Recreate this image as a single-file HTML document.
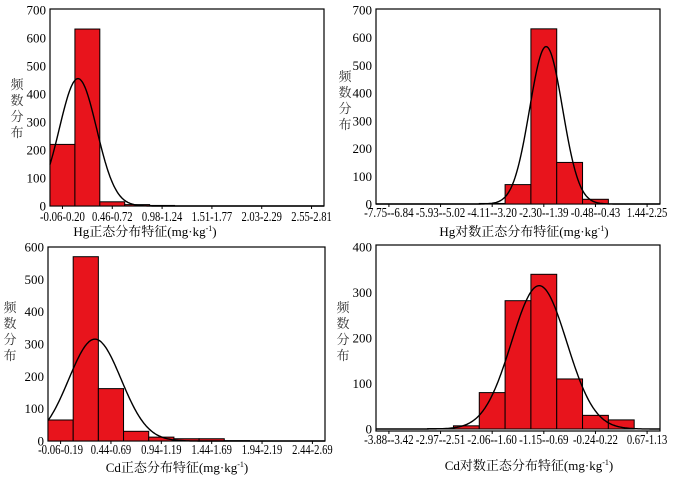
<!DOCTYPE html>
<html><head><meta charset="utf-8"><style>
html,body{margin:0;padding:0;background:#fff;}
svg{display:block;}
svg text{font-family:"Liberation Serif","Noto Serif CJK SC",serif;}
</style></head><body>
<svg id="svg" width="677" height="477" viewBox="0 0 677 477"></svg>
<script>
// Panel data
const hgBins = [220, 632, 15, 5, 2, 0, 0, 0, 0, 0, 0];
const hgLabels = ["-0.06-0.20", "0.46-0.72", "0.98-1.24", "1.51-1.77", "2.03-2.29", "2.55-2.81"];
const hgYTicks = [0, 100, 200, 300, 400, 500, 600, 700];
const hgNormal = [0.232, 0.195, 455];

const hgLogBins = [0, 0, 0, 0, 2, 70, 632, 150, 17, 0, 0];
const hgLogLabels = ["-7.75--6.84", "-5.93--5.02", "-4.11--3.20", "-2.30--1.39", "-0.48--0.43", "1.44-2.25"];
const hgLogYTicks = [0, 100, 200, 300, 400, 500, 600, 700];
const hgLogNormal = [-1.754, 0.58, 568];

const cdBins = [65, 570, 162, 30, 12, 7, 7, 1, 0, 0, 0];
const cdLabels = ["-0.06-0.19", "0.44-0.69", "0.94-1.19", "1.44-1.69", "1.94-2.19", "2.44-2.69"];
const cdYTicks = [0, 100, 200, 300, 400, 500, 600];
const cdNormal = [0.406, 0.26, 315];

const cdLogBins = [0, 0, 1, 7, 80, 282, 340, 110, 30, 20, 0];
const cdLogLabels = ["-3.88--3.42", "-2.97--2.51", "-2.06--1.60", "-1.15--0.69", "-0.24-0.22", "0.67-1.13"];
const cdLogYTicks = [0, 100, 200, 300, 400];
const cdLogNormal = [-1.005, 0.487, 315];

const NS = "http://www.w3.org/2000/svg";
const svg = document.getElementById("svg");
const FF = '"Liberation Serif","Noto Serif CJK SC",serif';
function mk(tag, attrs, parent) {
  const e = document.createElementNS(NS, tag);
  for (const k in attrs) e.setAttribute(k, attrs[k]);
  (parent || svg).appendChild(e);
  return e;
}

function panel(cfg) {
  const g = mk("g", {});
  
  
  const x0 = cfg.box[0], x1 = cfg.box[1], yT = cfg.box[2], yB = cfg.box[3];
  const n = cfg.bins.length, bw = (x1 - x0) / n;
  const ymax = cfg.yTicks[cfg.yTicks.length - 1];
  const yScale = v => cfg.y0 - v * (cfg.y0 - cfg.yTop) / ymax;
  const fr = mk("rect", {x: x0, y: yT, width: x1 - x0, height: yB - yT, fill: "#fff", stroke: "#000", "stroke-width": 1.2}, g);
  
  
  cfg.bins.forEach((v, i) => {
    if (v <= 0) return;
    const r = mk("rect", {x: x0 + i * bw, y: yScale(v), width: bw, height: cfg.y0 - yScale(v), fill: "#e8141c", stroke: "#000", "stroke-width": 1}, g);
    
    
  });
  const [mu, sd, peak] = cfg.normal;
  let d = "";
  for (let px = x0; px <= x1; px += 1) {
    const xv = cfg.start + (px - x0) / bw * cfg.step;
    const v = peak * Math.exp(-Math.pow(xv - mu, 2) / (2 * sd * sd));
    const py = Math.max(yScale(v), yT);
    d += (d ? "L" : "M") + px.toFixed(1) + "," + py.toFixed(1);
  }
  const c = mk("path", {d: d, fill: "none", stroke: "#000", "stroke-width": 1.4}, g);
  
  
  cfg.yTicks.forEach(t => {
    const tx = mk("text", {x: x0 - 4, y: yScale(t) + 4.5, "text-anchor": "end", "font-size": 13, "font-family": FF}, g);
    tx.textContent = t;
    
    
  });
  cfg.labels.forEach((l, k) => {
    const cx = x0 + (2 * k + 0.5) * bw;
    mk("line", {x1: cx, x2: cx, y1: yB, y2: yB + 3, stroke: "#000", "stroke-width": 1}, g);
    const tx = mk("text", {x: cx, y: cfg.xLabY, "text-anchor": "middle", "font-size": 13.5, "font-family": FF,
      textLength: (l.length * 4.5).toFixed(1), lengthAdjust: "spacingAndGlyphs"}, g);
    tx.textContent = l;
    
    
  });
  const tt = mk("text", {x: cfg.title[1], y: cfg.title[2], "text-anchor": "middle", "font-size": 13, "font-family": FF}, g);
  tt.innerHTML = cfg.title[0] + '(mg·kg<tspan font-size="8" dy="-5">-1</tspan><tspan dy="5">)</tspan>';
  
  
  const chars = ["频", "数", "分", "布"];
  chars.forEach((ch, i) => {
    const t = mk("text", {x: cfg.yTitle[0], y: cfg.yTitle[1] + i * 16, "text-anchor": "middle", "font-size": 13, fill: "#333", "font-family": FF}, g);
    t.textContent = ch;
    
    
  });
}

panel({name: "hg-normal-panel", bins: hgBins, labels: hgLabels, yTicks: hgYTicks, normal: hgNormal,
  box: [50, 324, 9, 206], y0: 206, yTop: 10, start: -0.06, step: 0.26, xLabY: 221,
  title: ["Hg正态分布特征", 145, 236], yTitle: [17, 89]});
panel({name: "hg-log-panel", bins: hgLogBins, labels: hgLogLabels, yTicks: hgLogYTicks, normal: hgLogNormal,
  box: [376, 660, 9, 204], y0: 204, yTop: 10, start: -7.75, step: 0.91, xLabY: 217,
  title: ["Hg对数正态分布特征", 524, 236], yTitle: [345, 81]});
panel({name: "cd-normal-panel", bins: cdBins, labels: cdLabels, yTicks: cdYTicks, normal: cdNormal,
  box: [48, 325, 247, 441], y0: 441, yTop: 247, start: -0.06, step: 0.25, xLabY: 454,
  title: ["Cd正态分布特征", 177, 472], yTitle: [10, 312]});
panel({name: "cd-log-panel", bins: cdLogBins, labels: cdLogLabels, yTicks: cdLogYTicks, normal: cdLogNormal,
  box: [376, 660, 245, 431], y0: 429, yTop: 247, start: -3.88, step: 0.455, xLabY: 444,
  title: ["Cd对数正态分布特征", 529, 470], yTitle: [343, 312]});
</script>
</body></html>
